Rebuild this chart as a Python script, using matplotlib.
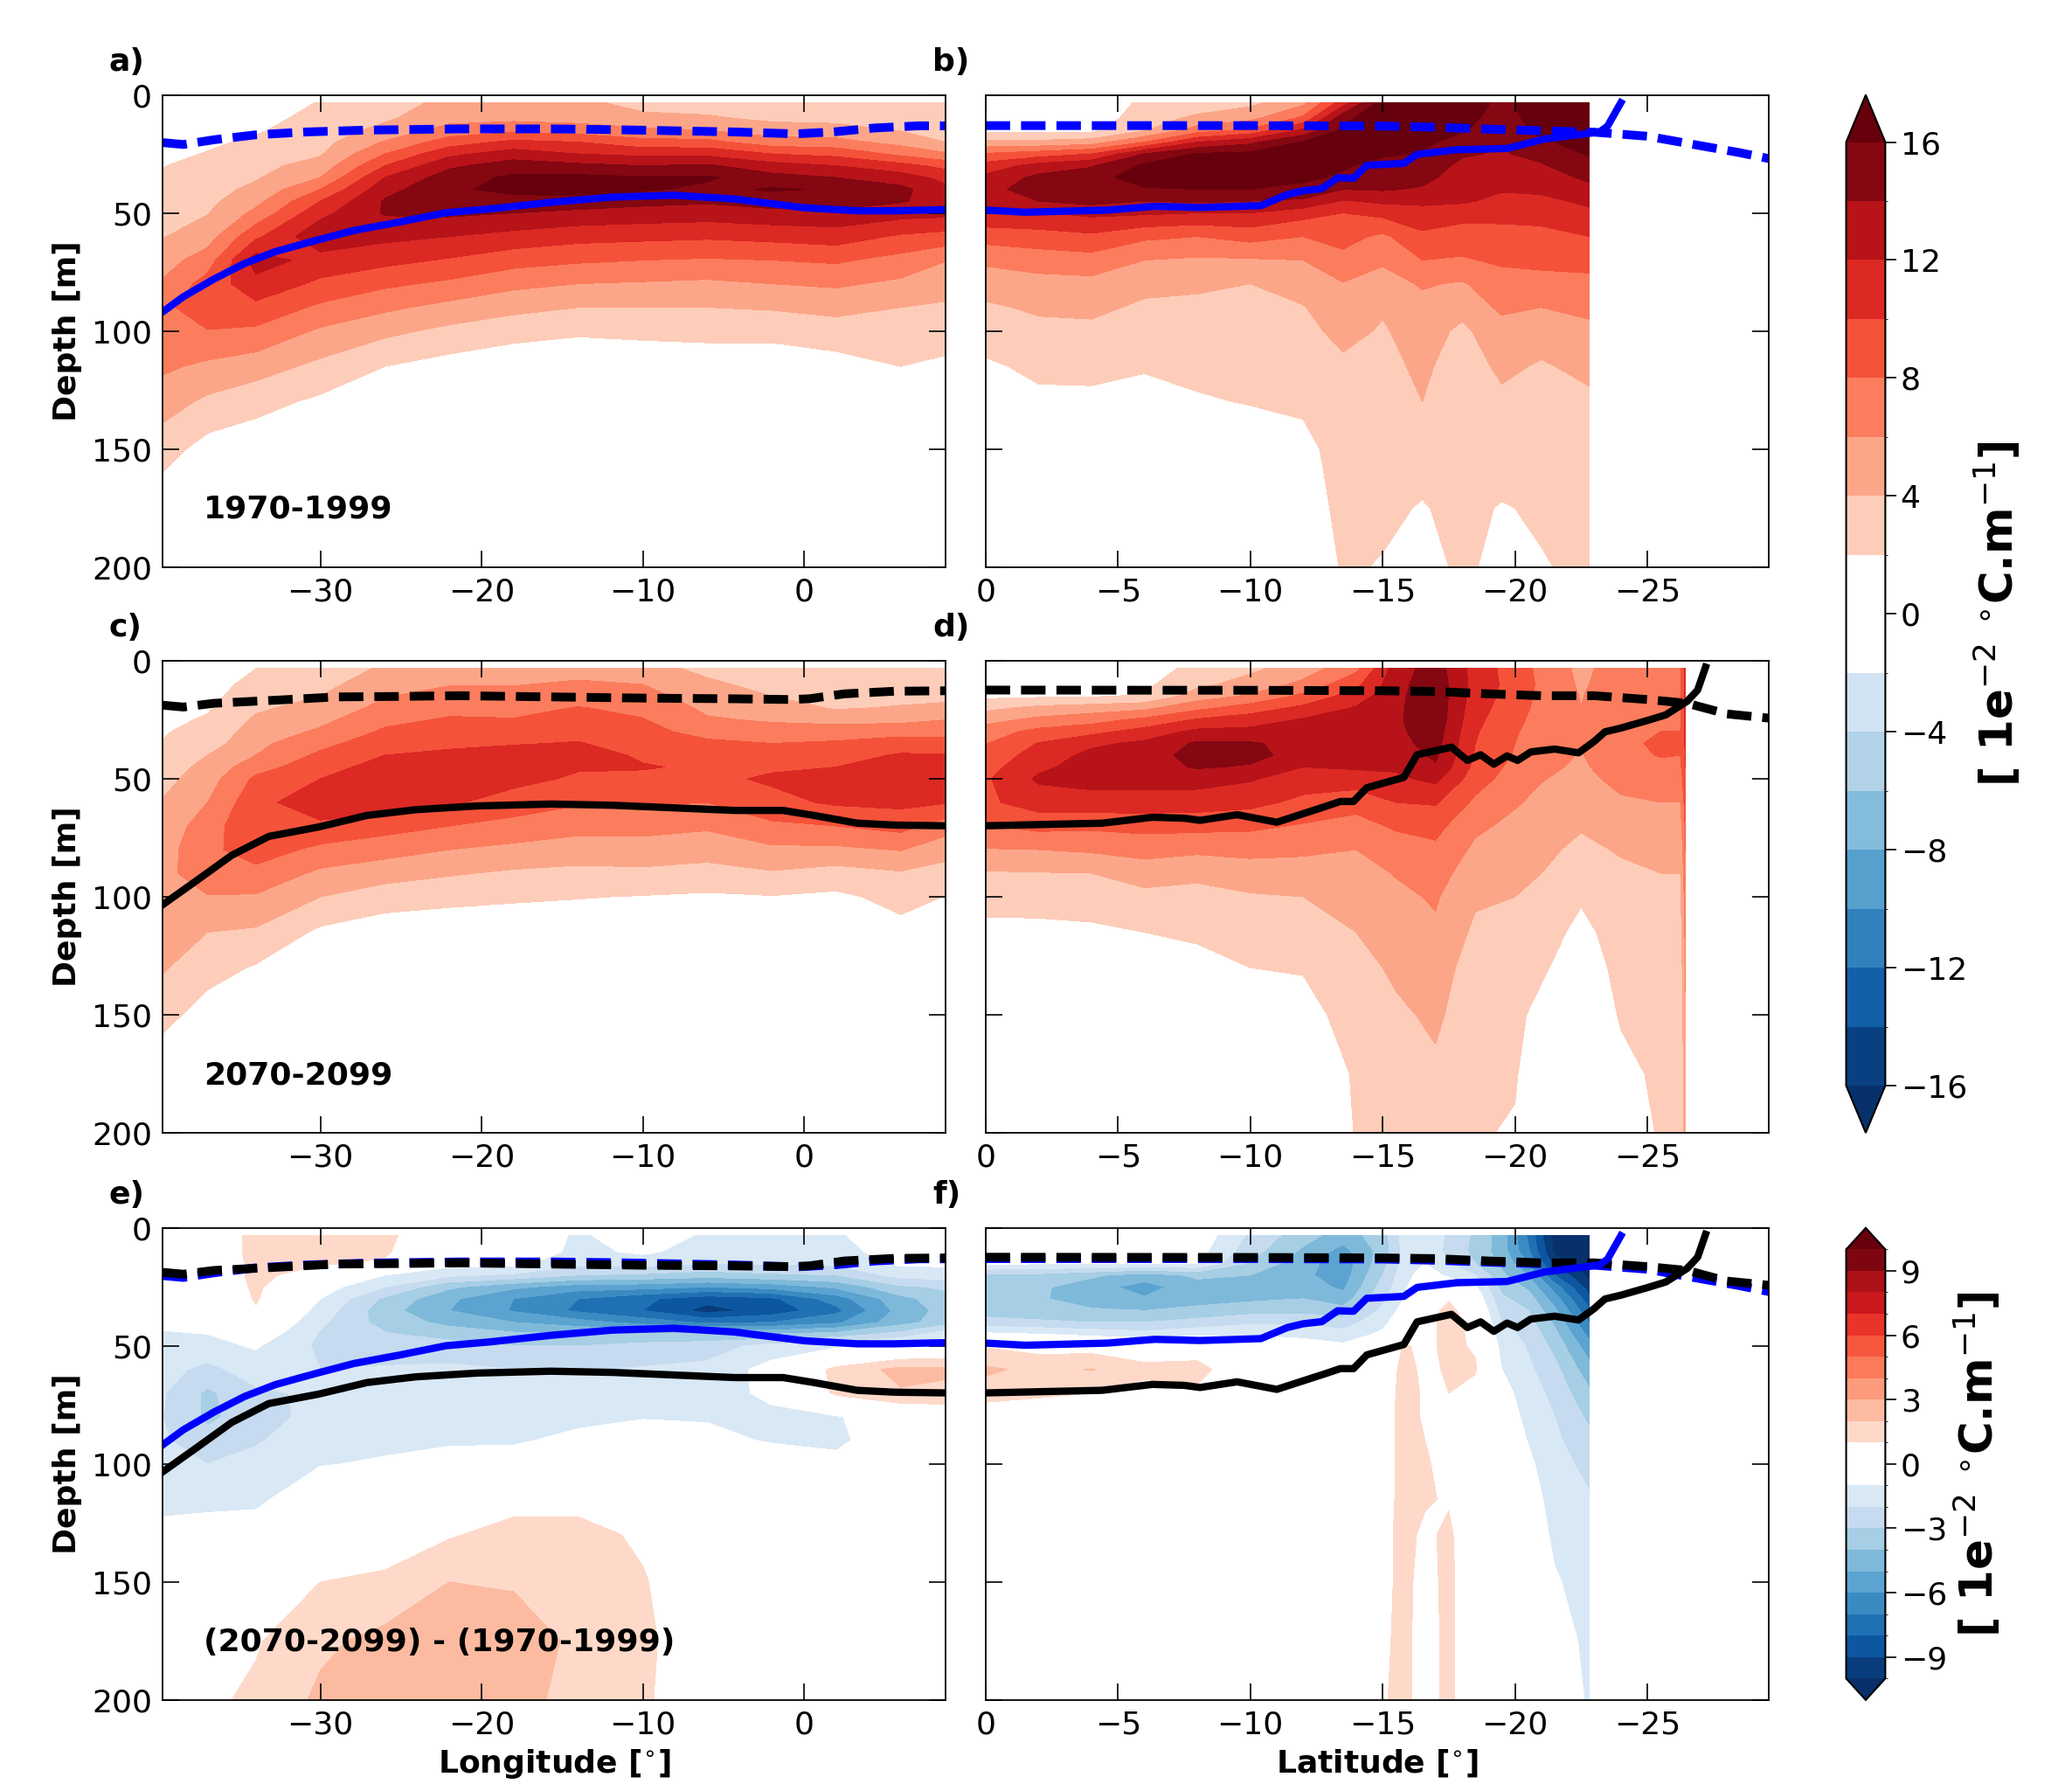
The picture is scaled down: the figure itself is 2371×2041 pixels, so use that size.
import numpy as np
import matplotlib.pyplot as plt
from matplotlib.colors import ListedColormap, BoundaryNorm

# depth levels of every section (m), one value per row of each column list
depth = [3.3, 10, 15, 20, 25, 30, 35, 40, 45, 50, 60, 70, 80, 90, 100, 115, 130, 150, 175, 200]

# ---- zonal section (longitude) ----
lon = [-40, -37, -34, -30, -26, -22, -18, -14, -10, -6, -2, 2, 6, 9]

hist_lon = [
    [0.4, 0.7, 0.9, 1.2, 1.5, 1.9, 2.2, 2.5, 2.8, 3.1, 3.8, 5.0, 6.1, 7.2, 7.5, 6.4, 5.0, 3.0, 0.8, 0.0],
    [0.6, 1.0, 1.3, 1.7, 2.1, 2.5, 2.8, 3.2, 3.5, 3.9, 5.1, 7.0, 8.8, 9.6, 7.9, 5.6, 3.6, 1.2, 0.2, 0.0],
    [1.0, 1.5, 1.8, 2.3, 2.9, 3.4, 3.8, 4.5, 5.4, 6.5, 9.6, 13.0, 11.3, 9.5, 7.6, 4.9, 2.7, 0.7, 0.0, 0.0],
    [2.1, 2.5, 2.9, 3.3, 3.8, 4.8, 6.0, 8.0, 10.0, 11.4, 13.5, 11.2, 9.6, 7.6, 5.7, 3.5, 1.6, 0.3, 0.0, 0.0],
    [3.0, 3.7, 4.6, 6.2, 8.0, 10.0, 12.0, 13.3, 14.2, 14.2, 12.5, 10.6, 8.4, 6.4, 4.5, 2.0, 0.5, 0.0, 0.0, 0.0],
    [4.6, 5.3, 6.8, 9.0, 11.5, 13.6, 15.0, 15.6, 15.3, 14.4, 12.0, 9.8, 7.6, 5.4, 3.5, 1.2, 0.2, 0.0, 0.0, 0.0],
    [4.8, 5.5, 7.5, 10.5, 13.0, 15.0, 16.4, 16.6, 15.3, 14.0, 11.3, 8.8, 6.5, 4.6, 2.7, 0.7, 0.0, 0.0, 0.0, 0.0],
    [4.5, 5.3, 7.0, 10.0, 12.0, 14.5, 16.5, 16.8, 15.2, 13.5, 10.7, 8.3, 6.0, 4.0, 2.3, 0.5, 0.0, 0.0, 0.0, 0.0],
    [3.3, 4.5, 6.4, 8.7, 11.5, 14.0, 16.2, 16.3, 14.6, 13.2, 10.5, 8.0, 5.8, 4.0, 2.5, 0.6, 0.0, 0.0, 0.0, 0.0],
    [3.0, 4.3, 6.0, 8.6, 11.5, 14.3, 16.3, 15.5, 14.3, 13.0, 10.3, 7.8, 5.6, 4.0, 2.6, 0.8, 0.1, 0.0, 0.0, 0.0],
    [2.6, 3.6, 5.0, 6.9, 10.0, 12.8, 14.7, 16.2, 15.0, 13.4, 10.6, 8.0, 6.0, 4.2, 2.6, 0.8, 0.0, 0.0, 0.0, 0.0],
    [2.5, 3.5, 4.7, 6.7, 9.4, 12.0, 14.0, 15.8, 15.0, 13.5, 11.0, 8.3, 6.3, 4.6, 3.1, 1.2, 0.2, 0.0, 0.0, 0.0],
    [2.3, 3.2, 3.9, 5.3, 7.5, 10.7, 13.0, 14.5, 14.2, 12.8, 9.7, 7.3, 5.6, 4.0, 3.0, 2.0, 0.5, 0.0, 0.0, 0.0],
    [2.2, 2.8, 3.3, 3.9, 6.2, 9.3, 11.2, 12.5, 13.0, 12.6, 9.2, 6.0, 4.8, 3.7, 2.8, 1.6, 0.5, 0.0, 0.0, 0.0],
]

fut_lon = [
    [0.4, 0.7, 0.9, 1.2, 1.5, 1.8, 2.0, 2.3, 2.8, 3.2, 4.0, 4.6, 5.0, 5.3, 5.4, 5.0, 4.3, 2.8, 0.6, 0.0],
    [0.8, 1.1, 1.4, 1.8, 2.2, 2.6, 3.0, 4.0, 4.6, 5.1, 6.0, 7.0, 7.5, 7.1, 5.9, 4.0, 2.8, 1.1, 0.2, 0.0],
    [2.0, 2.7, 3.2, 3.7, 4.3, 4.9, 5.5, 6.0, 7.2, 8.4, 9.4, 9.8, 9.0, 7.4, 5.8, 3.7, 1.8, 0.4, 0.0, 0.0],
    [2.8, 3.4, 4.0, 4.7, 5.5, 6.3, 7.4, 8.4, 9.2, 10.0, 11.2, 9.6, 7.5, 5.6, 4.0, 1.6, 0.4, 0.0, 0.0, 0.0],
    [4.3, 5.2, 5.9, 6.6, 7.5, 8.3, 9.2, 10.0, 10.8, 11.3, 11.0, 8.8, 6.8, 4.8, 3.0, 0.8, 0.0, 0.0, 0.0, 0.0],
    [4.8, 5.9, 6.7, 7.5, 8.2, 8.9, 9.7, 10.3, 10.8, 11.2, 10.3, 8.0, 6.0, 4.2, 2.6, 0.6, 0.0, 0.0, 0.0, 0.0],
    [5.0, 5.9, 6.6, 7.4, 8.1, 8.9, 9.9, 10.6, 10.9, 10.6, 9.1, 7.3, 5.5, 3.7, 2.3, 0.6, 0.0, 0.0, 0.0, 0.0],
    [5.2, 6.3, 7.1, 8.1, 8.8, 9.5, 10.1, 10.6, 10.2, 9.7, 8.2, 6.7, 5.0, 3.5, 2.1, 0.5, 0.0, 0.0, 0.0, 0.0],
    [4.6, 6.0, 6.8, 7.5, 8.1, 8.6, 9.2, 9.8, 10.1, 9.7, 8.2, 6.7, 5.1, 3.6, 1.9, 0.4, 0.0, 0.0, 0.0, 0.0],
    [3.6, 4.3, 4.9, 5.6, 6.2, 7.3, 8.4, 9.3, 9.8, 9.5, 8.0, 6.3, 4.8, 3.3, 1.7, 0.3, 0.0, 0.0, 0.0, 0.0],
    [3.0, 3.5, 4.0, 5.0, 5.8, 6.7, 8.0, 9.0, 9.7, 10.3, 9.4, 7.6, 5.6, 3.8, 1.9, 0.3, 0.0, 0.0, 0.0, 0.0],
    [2.2, 2.8, 3.2, 3.8, 5.4, 6.9, 8.3, 9.2, 10.0, 10.6, 10.3, 8.0, 5.6, 3.2, 1.6, 0.4, 0.0, 0.0, 0.0, 0.0],
    [2.2, 2.8, 3.3, 4.2, 5.5, 7.2, 9.0, 10.2, 10.8, 11.2, 10.5, 8.7, 6.1, 3.8, 2.6, 1.4, 0.4, 0.0, 0.0, 0.0],
    [2.2, 2.8, 3.8, 4.2, 6.0, 7.3, 8.7, 10.1, 10.5, 10.6, 10.1, 6.8, 4.7, 3.2, 1.9, 0.5, 0.0, 0.0, 0.0, 0.0],
]

diff_lon = [
    [0.0, 0.0, 0.0, 0.0, 0.0, 0.0, -0.3, -0.8, -1.1, -1.3, -1.6, -1.8, -1.9, -1.8, -1.6, -1.3, -0.7, 0.0, 0.0, 0.0],
    [0.0, 0.0, 0.0, 0.0, -0.1, -0.3, -0.5, -0.8, -1.0, -1.3, -2.3, -3.2, -3.2, -2.7, -2.0, -1.3, -0.5, 0.1, 0.5, 0.8],
    [1.4, 1.4, 1.3, 1.3, 1.2, 1.1, 0.9, 0.4, -0.3, -0.9, -1.5, -2.2, -2.5, -2.1, -1.7, -1.2, -0.5, 0.3, 0.9, 1.2],
    [1.4, 1.3, 1.1, 0.4, -0.5, -1.0, -1.4, -1.8, -2.1, -2.2, -2.0, -1.8, -1.6, -1.4, -1.05, -0.3, 0.3, 1.0, 1.8, 2.2],
    [1.2, 1.1, 0.9, -1.0, -2.0, -3.2, -3.6, -3.4, -2.9, -2.5, -1.9, -1.6, -1.4, -1.2, -0.9, -0.3, 0.4, 1.2, 2.3, 2.5],
    [0.2, 0.1, -0.6, -1.8, -3.8, -4.8, -5.0, -4.3, -3.4, -2.6, -1.8, -1.5, -1.3, -1.1, -0.7, 0.0, 0.9, 2.0, 2.7, 2.6],
    [0.0, -0.1, -0.7, -2.2, -4.8, -6.0, -6.1, -5.0, -3.8, -3.0, -2.0, -1.6, -1.4, -1.1, -0.6, 0.6, 1.4, 1.9, 2.5, 2.4],
    [-1.2, -1.3, -1.7, -3.0, -5.5, -7.0, -7.2, -5.6, -3.9, -3.0, -2.1, -1.6, -1.2, -0.8, -0.4, 0.6, 1.4, 1.6, 1.8, 1.6],
    [-0.3, -0.8, -1.6, -3.2, -5.6, -7.8, -8.0, -6.4, -3.8, -2.7, -1.9, -1.5, -1.05, -0.6, -0.2, 0.3, 0.8, 1.1, 1.3, 1.2],
    [-1.2, -1.5, -2.0, -3.5, -6.0, -8.6, -9.4, -7.2, -3.8, -2.5, -1.7, -1.4, -1.1, -0.7, -0.3, 0.0, 0.0, 0.0, 0.0, 0.0],
    [-1.3, -1.5, -1.9, -3.2, -5.6, -8.2, -8.6, -7.0, -4.0, -1.6, -0.6, -0.8, -1.2, -1.1, -0.3, 0.0, 0.0, 0.0, 0.0, 0.0],
    [-1.1, -1.3, -1.8, -3.0, -4.8, -6.5, -7.3, -6.2, -3.6, -1.2, 1.3, 1.2, -1.1, -1.3, -0.6, 0.0, 0.0, 0.0, 0.0, 0.0],
    [-0.5, -0.6, -0.8, -1.6, -3.2, -4.3, -4.6, -4.4, -2.6, -0.7, 2.3, 1.9, -0.2, 0.0, 0.0, 0.0, 0.0, 0.0, 0.0, 0.0],
    [-0.4, -0.5, -0.8, -1.5, -2.8, -3.4, -3.6, -3.4, -1.3, -0.4, 2.2, 1.7, 0.2, 0.0, 0.0, 0.0, 0.0, 0.0, 0.0, 0.0],
]

# ---- meridional section (latitude) ----
lat_hist = [0, -2, -4, -6, -8, -10, -12, -13.5, -15, -16.5, -18, -19.5, -21, -22.8]
hist_lat = [
    [0.5, 0.8, 1.5, 4.5, 8.2, 10.8, 12.5, 13.3, 12.8, 11.8, 8.8, 6.4, 4.9, 3.7, 2.9, 1.7, 0.8, 0.2, 0.0, 0.0],
    [0.5, 0.8, 1.4, 4.5, 9.0, 12.8, 14.5, 15.0, 14.0, 11.8, 9.2, 6.9, 5.3, 4.3, 3.5, 2.4, 1.6, 0.6, 0.0, 0.0],
    [0.6, 0.9, 1.5, 5.0, 10.0, 13.8, 15.2, 15.6, 14.7, 12.5, 9.6, 7.2, 5.4, 4.4, 3.6, 2.6, 1.5, 0.4, 0.0, 0.0],
    [2.4, 3.0, 3.8, 8.0, 14.0, 16.4, 17.0, 15.8, 14.0, 12.3, 8.4, 6.0, 4.5, 3.7, 3.1, 2.2, 1.2, 0.3, 0.0, 0.0],
    [2.7, 4.5, 7.0, 12.0, 16.2, 17.2, 17.0, 16.0, 14.3, 12.0, 8.0, 5.7, 4.3, 3.6, 3.1, 2.5, 1.8, 0.6, 0.0, 0.0],
    [3.5, 5.5, 8.5, 13.5, 16.5, 17.4, 17.2, 16.0, 14.0, 12.0, 8.7, 5.8, 4.0, 3.5, 3.0, 2.5, 2.1, 0.8, 0.0, 0.0],
    [5.5, 8.5, 12.5, 16.2, 17.2, 17.3, 16.6, 15.2, 13.7, 10.8, 8.0, 6.0, 4.8, 3.9, 3.4, 2.8, 2.3, 1.5, 0.8, 0.3],
    [11.0, 15.5, 16.5, 17.0, 16.9, 16.4, 15.5, 14.0, 11.8, 10.0, 8.7, 7.4, 5.9, 5.2, 4.6, 3.6, 3.1, 2.7, 2.6, 2.2],
    [17.0, 17.3, 17.2, 16.8, 16.4, 15.0, 14.6, 14.2, 12.4, 10.6, 7.6, 6.3, 5.2, 4.2, 3.8, 3.4, 3.0, 2.6, 2.3, 1.9],
    [17.5, 17.2, 16.8, 16.5, 15.8, 15.0, 14.5, 13.8, 12.3, 11.5, 9.5, 8.0, 6.2, 5.4, 4.9, 4.4, 4.0, 2.6, 1.9, 1.6],
    [17.2, 16.8, 16.2, 15.2, 14.2, 13.6, 13.2, 12.8, 12.3, 10.8, 9.0, 7.8, 5.8, 4.6, 3.6, 3.0, 2.6, 2.4, 2.4, 2.2],
    [15.5, 15.0, 14.6, 14.2, 13.8, 13.2, 12.8, 12.2, 11.4, 10.6, 9.3, 8.3, 7.2, 6.4, 5.2, 4.4, 3.6, 2.8, 1.9, 1.7],
    [17.2, 17.0, 16.6, 15.8, 14.6, 13.8, 13.0, 12.4, 11.5, 10.5, 9.6, 8.6, 7.2, 6.0, 4.8, 3.8, 3.0, 2.4, 2.2, 1.9],
    [17.5, 17.3, 17.0, 16.6, 16.2, 15.3, 14.4, 13.4, 12.4, 11.6, 10.0, 8.6, 7.5, 6.5, 5.5, 4.5, 3.6, 3.0, 2.6, 2.3],
]

lat_fut = [0, -2, -4, -6, -8, -10, -12, -14, -15.5, -17, -18.5, -20, -21, -22.5, -24, -25.5, -26.25, -26.45]
fut_lat = [
    [0.5, 0.8, 1.6, 3.5, 5.3, 7.0, 7.9, 8.6, 9.2, 9.7, 9.6, 7.9, 5.9, 3.8, 2.8, 1.4, 0.5, 0.0, 0.0, 0.0],
    [0.5, 0.8, 1.7, 4.5, 6.5, 8.6, 10.1, 10.9, 11.6, 12.3, 11.0, 8.6, 6.0, 3.9, 2.9, 1.4, 0.5, 0.0, 0.0, 0.0],
    [0.6, 0.9, 1.8, 5.0, 7.2, 9.4, 11.6, 12.5, 12.8, 12.7, 11.2, 8.4, 6.3, 4.0, 3.0, 1.6, 0.6, 0.0, 0.0, 0.0],
    [1.2, 1.6, 2.2, 5.5, 8.5, 10.8, 12.4, 13.0, 13.1, 12.7, 11.2, 8.6, 6.8, 4.8, 3.5, 2.0, 1.0, 0.1, 0.0, 0.0],
    [2.5, 3.5, 5.0, 7.5, 10.2, 12.5, 14.3, 14.8, 14.2, 12.8, 11.0, 8.6, 6.4, 4.5, 3.3, 2.3, 1.4, 0.2, 0.0, 0.0],
    [3.6, 4.8, 6.3, 9.0, 11.0, 12.6, 14.2, 14.6, 13.8, 12.2, 10.6, 8.4, 6.6, 5.0, 3.8, 2.8, 2.0, 0.8, 0.0, 0.0],
    [5.0, 6.5, 8.5, 10.5, 12.2, 13.0, 13.4, 13.2, 12.0, 11.0, 9.5, 7.8, 6.4, 5.0, 4.0, 3.0, 2.1, 1.5, 0.6, 0.0],
    [7.5, 9.5, 11.0, 12.2, 13.0, 13.6, 13.8, 13.5, 12.3, 11.0, 8.8, 7.2, 6.0, 5.3, 4.7, 4.0, 3.2, 2.6, 2.2, 2.1],
    [13.0, 13.3, 13.5, 13.6, 13.7, 13.6, 13.4, 13.0, 12.3, 11.6, 10.0, 8.3, 6.9, 6.1, 5.6, 5.0, 4.4, 3.6, 2.9, 2.6],
    [15.0, 15.3, 15.4, 15.4, 15.3, 15.0, 14.7, 14.3, 13.8, 12.5, 10.2, 8.6, 7.6, 6.8, 6.2, 5.7, 5.0, 4.4, 3.6, 3.2],
    [11.2, 11.2, 11.0, 10.8, 10.5, 10.2, 10.0, 9.8, 9.4, 8.9, 7.6, 6.4, 5.6, 4.9, 4.3, 3.6, 3.0, 2.6, 2.3, 2.1],
    [9.0, 9.2, 9.1, 8.8, 8.5, 8.2, 8.0, 7.8, 7.4, 7.0, 6.2, 5.5, 5.0, 4.5, 4.0, 3.4, 2.7, 2.3, 2.1, 1.9],
    [7.5, 7.6, 7.5, 7.4, 7.2, 7.0, 6.8, 6.6, 6.4, 6.1, 5.5, 5.0, 4.5, 4.0, 3.4, 2.8, 2.2, 1.6, 1.2, 1.0],
    [5.5, 5.7, 5.9, 6.0, 6.1, 6.1, 6.0, 5.9, 5.7, 5.4, 4.8, 4.2, 3.5, 2.8, 2.2, 1.5, 1.2, 1.0, 0.9, 0.8],
    [7.0, 7.2, 7.4, 7.5, 7.6, 7.6, 7.6, 7.4, 7.0, 6.6, 5.7, 4.9, 4.2, 3.6, 3.2, 2.8, 2.4, 2.1, 1.7, 1.4],
    [7.4, 7.5, 7.6, 7.7, 7.8, 8.0, 8.3, 8.1, 7.6, 7.0, 6.0, 5.2, 4.5, 4.0, 3.6, 3.2, 2.8, 2.4, 2.2, 2.1],
    [7.4, 7.5, 7.6, 7.7, 7.8, 8.0, 8.2, 8.0, 7.6, 7.0, 6.0, 5.2, 4.5, 4.0, 3.6, 3.2, 2.8, 2.4, 2.2, 2.1],
    [11.0, 11.0, 11.0, 11.0, 10.8, 10.6, 10.4, 10.2, 10.0, 9.6, 9.0, 8.4, 8.0, 7.5, 7.0, 6.6, 6.2, 5.8, 5.4, 5.0],
]

lat_diff = [0, -2, -4, -6, -8, -10, -12, -13.5, -15, -15.8, -16.6, -17.5, -18.5, -19.5, -20.5, -21.5, -22.8]
diff_lat = [
    [-0.2, -0.4, -0.8, -3.2, -3.6, -3.7, -3.5, -2.6, -0.8, 0.9, 2.2, 1.5, 0.2, 0.0, 0.0, 0.0, 0.0, 0.0, 0.0, 0.0],
    [-0.3, -0.5, -0.9, -3.3, -3.8, -3.9, -3.7, -2.8, -1.0, 0.6, 1.7, 1.2, 0.2, 0.0, 0.0, 0.0, 0.0, 0.0, 0.0, 0.0],
    [-0.3, -0.5, -0.9, -3.8, -4.6, -4.4, -3.9, -3.0, -1.3, 0.5, 2.05, 1.0, 0.1, 0.0, 0.0, 0.0, 0.0, 0.0, 0.0, 0.0],
    [-0.3, -0.5, -0.9, -4.5, -5.4, -4.9, -4.0, -3.0, -1.6, 0.3, 1.3, 0.6, 0.0, 0.0, 0.0, 0.0, 0.0, 0.0, 0.0, 0.0],
    [-0.3, -0.6, -1.0, -3.8, -4.4, -4.3, -3.8, -2.6, -1.3, 0.5, 1.3, 0.8, 0.0, 0.0, 0.0, 0.0, 0.0, 0.0, 0.0, 0.0],
    [-2.2, -2.6, -3.2, -4.0, -4.6, -4.2, -3.4, -2.2, -1.1, -0.3, 0.2, 0.1, 0.0, 0.0, 0.0, 0.0, 0.0, 0.0, 0.0, 0.0],
    [-3.6, -4.2, -4.6, -4.8, -4.5, -4.0, -3.3, -2.2, -1.3, -0.5, 0.0, 0.0, 0.0, 0.0, 0.0, 0.0, 0.0, 0.0, 0.0, 0.0],
    [-4.5, -5.4, -5.6, -5.5, -5.2, -4.6, -3.6, -2.5, -1.6, -0.8, -0.2, 0.0, 0.0, 0.0, 0.0, 0.0, 0.0, 0.0, 0.0, 0.0],
    [-3.5, -3.6, -3.4, -3.0, -2.6, -2.2, -1.8, -1.3, -0.8, -0.3, 0.3, 0.5, 0.6, 0.6, 0.6, 0.6, 0.7, 0.7, 0.8, 0.9],
    [-1.6, -1.7, -1.6, -1.4, -1.2, -1.0, -0.6, -0.2, 0.4, 1.1, 1.3, 1.3, 1.3, 1.3, 1.3, 1.3, 1.3, 1.3, 1.3, 1.3],
    [-1.2, -1.2, -1.0, -0.5, 0.0, 0.3, 0.5, 0.6, 0.7, 0.8, 0.8, 0.9, 0.9, 1.0, 1.1, 1.1, 0.8, 0.6, 0.5, 0.5],
    [-2.2, -2.3, -2.0, -1.2, -0.2, 0.9, 1.3, 1.4, 1.3, 1.2, 1.1, 1.0, 0.7, 0.6, 0.7, 0.9, 1.2, 1.3, 1.3, 1.3],
    [-3.2, -3.3, -3.0, -2.0, -0.8, -0.2, 0.3, 0.6, 0.8, 0.9, 1.1, 0.6, 0.0, -0.2, -0.2, -0.1, 0.0, 0.0, 0.0, 0.0],
    [-4.5, -4.5, -4.2, -3.8, -3.3, -2.8, -2.4, -2.0, -1.6, -1.3, -1.0, -0.6, -0.3, -0.1, 0.0, 0.0, 0.0, 0.0, 0.0, 0.0],
    [-7.2, -6.8, -6.0, -5.0, -4.2, -3.5, -3.0, -2.6, -2.3, -2.1, -1.8, -1.5, -1.3, -1.05, -0.8, -0.5, -0.3, 0.0, 0.0, 0.0],
    [-10.5, -10.2, -9.5, -8.0, -6.5, -5.5, -4.8, -4.2, -3.7, -3.3, -2.7, -2.3, -2.0, -1.8, -1.6, -1.4, -1.2, -0.9, -0.6, -0.4],
    [-11.0, -11.0, -10.8, -10.3, -9.5, -8.6, -7.8, -7.0, -6.3, -5.6, -4.6, -3.8, -3.2, -2.7, -2.3, -1.9, -1.6, -1.4, -1.2, -1.1],
]

# ---- layer depth lines ----
lon_sol_hist = [-39.8, -38.5, -36.6, -34.7, -32.8, -30.2, -27.9, -25.2, -22.2, -19.5, -15.7, -11.9, -8.1, -4.3, -2.0, 0.0, 3.3, 5.6, 8.8]
dep_sol_hist = [92, 85.5, 78, 71.4, 66.4, 61.5, 57.4, 54, 49.9, 48.3, 45.5, 43.3, 42.5, 44.1, 46.1, 47.8, 49.1, 49.1, 48.6]
lon_dash_hist = [-39.8, -38.5, -36.6, -34.0, -30.9, -27.1, -21.4, -15.7, -11.9, -8.1, -4.3, -0.5, 1.8, 4.4, 7.1, 8.8]
dep_dash_hist = [20.2, 21, 19, 16.9, 15.7, 14.9, 14.4, 14.4, 14.7, 15.2, 15.7, 16.5, 15.7, 14, 13.1, 13.1]
lon_sol_fut = [-39.8, -37.8, -35.5, -33.2, -30.1, -27.1, -24.1, -20.3, -15.7, -11.9, -8.1, -4.3, -1.3, 0.6, 3.3, 5.6, 8.8]
dep_sol_fut = [103.4, 93.7, 82.4, 74.4, 70.4, 65.5, 63.1, 61.5, 60.7, 61.2, 62.3, 63.4, 63.4, 65.5, 68.8, 69.6, 69.9]
lon_dash_fut = [-39.8, -38.5, -36.6, -32.8, -29.0, -25.2, -21.4, -15.7, -10.0, -4.3, -0.9, 0.3, 2.5, 5.6, 8.8]
dep_dash_fut = [18.8, 19.6, 18, 16.7, 15.3, 15.1, 14.8, 15.3, 15.8, 16.1, 16.4, 16.1, 14, 12.9, 12.7]

lat_sol_hist = [0, -1.5, -4.6, -6.4, -8.1, -10.4, -11.4, -12.0, -12.7, -13.3, -13.9, -14.4, -15.8, -16.3,
                -17.8, -19.7, -20.3, -21.1, -22.0, -23.2, -23.5, -24.0]
ldep_sol_hist = [48.8, 49.7, 48.8, 47.2, 47.7, 46.9, 42.2, 40.6, 39.7, 35.1, 35.3, 29.8, 29, 25.2,
                 23.2, 22.7, 21, 18.7, 17.4, 15.7, 13.2, 3.3]
lat_dash_hist = [0, -10, -15, -17, -19, -21, -23, -25, -27, -28.5, -29.6]
ldep_dash_hist = [13, 13, 13.2, 13.7, 14.5, 15.2, 15.8, 17.5, 21.5, 24.5, 27]
lat_sol_fut = [0, -4.4, -6.3, -7.5, -8.1, -9.5, -11.0, -12.9, -13.4, -13.9, -14.4, -15.8, -16.3, -17.6, -18.2,
               -18.7, -19.2, -19.7, -20.1, -20.6, -21.5, -22.4, -23.0, -23.4, -24.0, -25.0, -25.7, -26.5, -26.9, -27.2]
ldep_sol_fut = [69.9, 68.8, 66.3, 66.7, 67.6, 65.2, 68.4, 61.5, 59.6, 59.6, 53.8, 49.4, 39.8, 36.6, 42.2,
                39.8, 43.8, 40.3, 42.2, 38.6, 37.4, 39, 34.1, 30.1, 28.5, 25.3, 22.9, 17.2, 12.4, 2.7]
lat_dash_fut = [0, -10, -15, -17, -19, -21, -23, -25, -26.5, -28, -29.6]
ldep_dash_fut = [12.4, 12.5, 12.7, 13, 14, 14.8, 14.8, 16.4, 18, 22.5, 24.3]


def make_cmap(n):
    pos = (np.arange(n) + 0.5) / n
    reds = plt.cm.Reds(pos)
    blues = plt.cm.Blues(pos)
    reds[0] = (1, 1, 1, 1)
    blues[0] = (1, 1, 1, 1)
    cmap = ListedColormap(np.vstack([blues[::-1], reds]))
    cmap.set_over(plt.cm.Reds(1.0))
    cmap.set_under(plt.cm.Blues(1.0))
    return cmap


lev_abs = np.arange(-16, 17, 2)
cmap_abs = make_cmap(8)
norm_abs = BoundaryNorm(lev_abs, cmap_abs.N)
lev_diff = np.arange(-10, 11, 1)
cmap_diff = make_cmap(10)
norm_diff = BoundaryNorm(lev_diff, cmap_diff.N)

FS = 26
SOL = 6
DSH = 7.2
dashes = (2.8, 1.25)

fig = plt.figure(figsize=(23.71, 20.41), dpi=100)
lefts = [0.0784, 0.4757]
bottoms = [0.6822, 0.3650, 0.0471]
w, h = 0.3781, 0.2646
axes = [[fig.add_axes([l, b, w, h]) for l in lefts] for b in bottoms]


def section(ax, x, cols, lev, cmap, norm):
    return ax.contourf(x, depth, np.array(cols).T, levels=lev, cmap=cmap, norm=norm, extend='both')


def style(ax, left, letter):
    ax.set_ylim(200, 0)
    ax.set_yticks([0, 50, 100, 150, 200])
    ax.tick_params(direction='in', top=True, right=True, length=14, width=1.2,
                   labelsize=FS, pad=8.5)
    for s in ax.spines.values():
        s.set_linewidth(1.3)
    if left:
        ax.set_xlim(-39.8, 8.8)
        ax.set_xticks([-30, -20, -10, 0])
        ax.set_ylabel('Depth [m]', fontsize=FS, fontweight='bold', labelpad=8)
    else:
        ax.set_xlim(0, -29.6)
        ax.set_xticks([0, -5, -10, -15, -20, -25])
        ax.set_yticklabels([])
    ax.text(-0.068, 1.07, letter, transform=ax.transAxes, fontsize=FS,
            fontweight='bold', va='center', ha='left')


# a) historical, zonal
ax = axes[0][0]
cs_abs = section(ax, lon, hist_lon, lev_abs, cmap_abs, norm_abs)
ax.plot(lon_dash_hist, dep_dash_hist, color='blue', lw=DSH, dashes=dashes)
ax.plot(lon_sol_hist, dep_sol_hist, color='blue', lw=SOL)
ax.text(0.053, 0.122, '1970-1999', transform=ax.transAxes, fontsize=FS, fontweight='bold', va='center')
style(ax, True, 'a)')

# b) historical, meridional
ax = axes[0][1]
section(ax, lat_hist, hist_lat, lev_abs, cmap_abs, norm_abs)
ax.plot(lat_dash_hist, ldep_dash_hist, color='blue', lw=DSH, dashes=dashes)
ax.plot(lat_sol_hist, ldep_sol_hist, color='blue', lw=SOL)
style(ax, False, 'b)')

# c) future, zonal
ax = axes[1][0]
section(ax, lon, fut_lon, lev_abs, cmap_abs, norm_abs)
ax.plot(lon_dash_fut, dep_dash_fut, color='black', lw=DSH, dashes=dashes)
ax.plot(lon_sol_fut, dep_sol_fut, color='black', lw=SOL)
ax.text(0.053, 0.122, '2070-2099', transform=ax.transAxes, fontsize=FS, fontweight='bold', va='center')
style(ax, True, 'c)')

# d) future, meridional
ax = axes[1][1]
section(ax, lat_fut, fut_lat, lev_abs, cmap_abs, norm_abs)
ax.plot(lat_dash_fut, ldep_dash_fut, color='black', lw=DSH, dashes=dashes)
ax.plot(lat_sol_fut, ldep_sol_fut, color='black', lw=SOL)
style(ax, False, 'd)')

# e) difference, zonal
ax = axes[2][0]
cs_diff = section(ax, lon, diff_lon, lev_diff, cmap_diff, norm_diff)
ax.plot(lon_dash_hist, dep_dash_hist, color='blue', lw=DSH, dashes=dashes)
ax.plot(lon_dash_fut, dep_dash_fut, color='black', lw=DSH, dashes=dashes)
ax.plot(lon_sol_hist, dep_sol_hist, color='blue', lw=SOL)
ax.plot(lon_sol_fut, dep_sol_fut, color='black', lw=SOL)
ax.text(0.053, 0.122, '(2070-2099) - (1970-1999)', transform=ax.transAxes, fontsize=FS,
        fontweight='bold', va='center')
style(ax, True, 'e)')
ax.set_xlabel(r'Longitude [$^{\circ}$]', fontsize=FS, fontweight='bold', labelpad=6)

# f) difference, meridional
ax = axes[2][1]
section(ax, lat_diff, diff_lat, lev_diff, cmap_diff, norm_diff)
ax.plot(lat_dash_hist, ldep_dash_hist, color='blue', lw=DSH, dashes=dashes)
ax.plot(lat_dash_fut, ldep_dash_fut, color='black', lw=DSH, dashes=dashes)
ax.plot(lat_sol_hist, ldep_sol_hist, color='blue', lw=SOL)
ax.plot(lat_sol_fut, ldep_sol_fut, color='black', lw=SOL)
style(ax, False, 'f)')
ax.set_xlabel(r'Latitude [$^{\circ}$]', fontsize=FS, fontweight='bold', labelpad=6)

# colorbars span from arrow tip to arrow tip
unit = r'[ 1e$^{-2}$ $^{\circ}$C.m$^{-1}$]'
cax1 = fig.add_axes([0.891, 0.3650, 0.0189, 0.5818])
cb1 = fig.colorbar(cs_abs, cax=cax1, ticks=np.arange(-16, 17, 4))
cax2 = fig.add_axes([0.891, 0.0471, 0.0189, 0.2646])
cb2 = fig.colorbar(cs_diff, cax=cax2, ticks=np.arange(-9, 10, 3))
for cb in (cb1, cb2):
    cb.set_label(unit, fontsize=37, fontweight='bold')
    cb.ax.tick_params(labelsize=FS, length=9, width=1.2)
    cb.outline.set_linewidth(1.5)

fig.savefig('out.png', dpi=100)
